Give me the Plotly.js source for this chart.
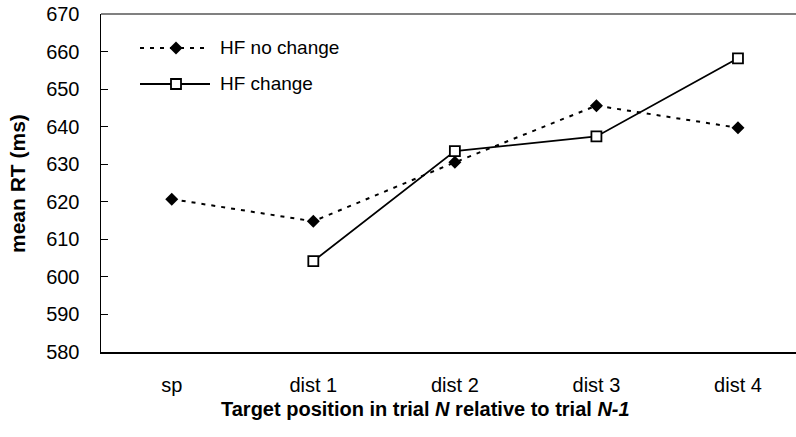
<!DOCTYPE html>
<html>
<head>
<meta charset="utf-8">
<script src="https://cdn.plot.ly/plotly-3.0.1.min.js"></script>
<style>html,body{margin:0;padding:0;background:#fff;}#chart{width:796px;height:437px;}</style>
</head>
<body>
<div id="chart"></div>
<script>
const categories = ["sp", "dist 1", "dist 2", "dist 3", "dist 4"];
const hfNoChange = [620.7, 614.8, 630.5, 645.6, 639.7];
const hfChange = [null, 604.2, 633.5, 637.4, 658.2];
const yTicks = [580, 590, 600, 610, 620, 630, 640, 650, 660, 670];
const seriesNames = ["HF no change", "HF change"];

const FONT = "Liberation Sans, Arial, sans-serif";
const W = 796, H = 437;
const L = 101, R = 0, T = 14, B = 85;
const pw = W - L - R, ph = H - T - B;
const px = v => (v - L) / pw;
const py = v => (H - B - v) / ph;

const traces = [
  {
    x: categories, y: hfNoChange, name: seriesNames[0], type: "scatter", mode: "lines+markers",
    line: {color: "#000", width: 2, dash: "4px,6px"},
    marker: {symbol: "diamond", size: 10, color: "#000", line: {width: 0}},
    showlegend: false
  },
  {
    x: categories, y: hfChange, name: seriesNames[1], type: "scatter", mode: "lines+markers",
    line: {color: "#000", width: 1.8},
    marker: {symbol: "square", size: 10, color: "#fff", line: {color: "#000", width: 1.8}},
    showlegend: false, connectgaps: false
  }
];

const shapes = [
  {type: "line", xref: "paper", yref: "paper", x0: 0, x1: 1, y0: 1, y1: 1, line: {color: "#808080", width: 2}},
  {type: "line", xref: "paper", yref: "paper", x0: px(140), x1: px(210), y0: py(48), y1: py(48), line: {color: "#000", width: 2, dash: "4px,6px"}},
  {type: "path", xref: "paper", yref: "paper",
   path: `M ${px(176)},${py(48-6.5)} L ${px(182.5)},${py(48)} L ${px(176)},${py(48+6.5)} L ${px(169.5)},${py(48)} Z`,
   fillcolor: "#000", line: {width: 0}},
  {type: "line", xref: "paper", yref: "paper", x0: px(140), x1: px(210), y0: py(84), y1: py(84), line: {color: "#000", width: 1.8}},
  {type: "rect", xref: "paper", yref: "paper", x0: px(171), x1: px(181), y0: py(79), y1: py(89), fillcolor: "#fff", line: {color: "#000", width: 1.8}}
];

const annotations = [
  {xref: "paper", yref: "paper", x: px(218), y: py(48), xanchor: "left", yanchor: "middle", showarrow: false,
   text: seriesNames[0], font: {family: FONT, size: 19, color: "#000"}},
  {xref: "paper", yref: "paper", x: px(218), y: py(84), xanchor: "left", yanchor: "middle", showarrow: false,
   text: seriesNames[1], font: {family: FONT, size: 19, color: "#000"}},
  {xref: "paper", yref: "paper", x: px(425), y: py(409), xanchor: "center", yanchor: "middle", showarrow: false,
   text: "<b>Target position in trial <i>N</i> relative to trial <i>N-1</i></b>", font: {family: FONT, size: 20, color: "#000"}},
  {xref: "paper", yref: "paper", x: px(17), y: py(184), xanchor: "center", yanchor: "middle", showarrow: false, textangle: -90,
   text: "<b>mean RT (ms)</b>", font: {family: FONT, size: 21, color: "#000"}}
];

const layout = {
  width: W, height: H,
  margin: {l: L, r: R, t: T, b: B, pad: 0},
  paper_bgcolor: "#fff", plot_bgcolor: "#fff",
  font: {family: FONT, size: 20, color: "#000"},
  showlegend: false,
  xaxis: {
    type: "category", range: [-0.5, 4.41], showgrid: false, zeroline: false,
    showline: true, linecolor: "#000", linewidth: 1.5, ticks: "", ticklabelstandoff: 14,
    tickfont: {family: FONT, size: 20, color: "#000"}, fixedrange: true
  },
  yaxis: {
    range: [580, 670], tickvals: yTicks, ticktext: yTicks.map(String), showgrid: false, zeroline: false,
    showline: true, linecolor: "#000", linewidth: 1.5, ticks: "inside", ticklen: 7, tickwidth: 1.2, tickcolor: "#000",
    ticklabelstandoff: 16, tickfont: {family: FONT, size: 20, color: "#000"}, fixedrange: true
  },
  shapes: shapes,
  annotations: annotations
};

Plotly.newPlot("chart", traces, layout, {displayModeBar: false, staticPlot: true});
</script>
</body>
</html>
